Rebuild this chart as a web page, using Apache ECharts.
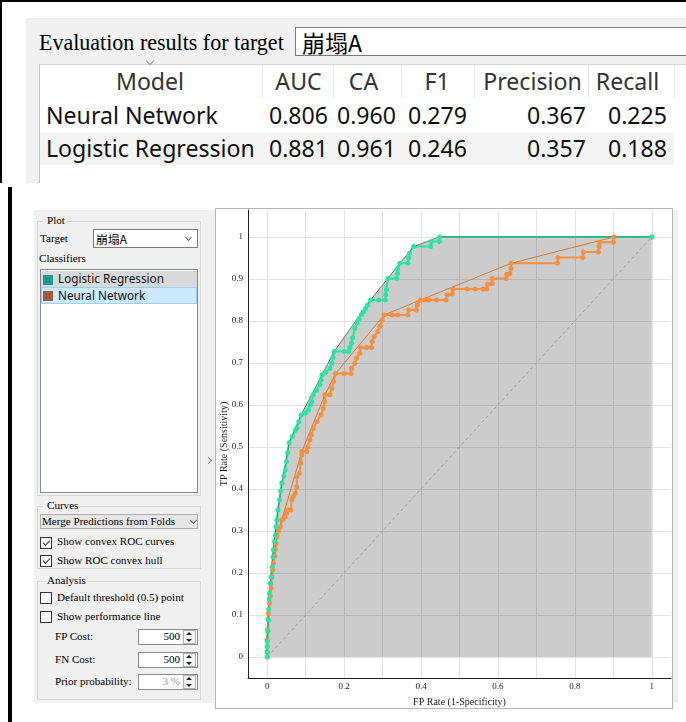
<!DOCTYPE html>
<html>
<head>
<meta charset="utf-8">
<script src="https://cdn.jsdelivr.net/npm/echarts@6/dist/echarts.min.js"></script>
<style>
  html, body { margin: 0; padding: 0; }
  body { width: 686px; height: 722px; position: relative; background: #fff; overflow: hidden; }
  .b { position: absolute; box-sizing: border-box; }
  .t { position: absolute; white-space: nowrap; line-height: 1; }
  .chk { position: absolute; box-sizing: border-box; width: 12px; height: 12px; border: 1px solid #333; background: #fff; }
  .tick { position: absolute; left: 2px; top: 2px; width: 6px; height: 3px; border-left: 1.4px solid #333; border-bottom: 1.4px solid #333; transform: rotate(-45deg); }
  .chev { position: absolute; width: 4px; height: 4px; border-right: 1px solid #666; border-bottom: 1px solid #666; transform: rotate(45deg); }
  .up { position: absolute; width: 0; height: 0; border-left: 3px solid transparent; border-right: 3px solid transparent; border-bottom: 3px solid #222; }
  .dn { position: absolute; width: 0; height: 0; border-left: 3px solid transparent; border-right: 3px solid transparent; border-top: 3px solid #222; }
</style>
</head>
<body>
<div id="ui"></div>
<div class="b" style="left:215px;top:208px;width:458px;height:501px;border:1px solid #b5b5b5;background:#fff"></div>
<div id="roc" style="position:absolute;left:216px;top:209px;width:456px;height:499px"></div>
<script>
// ---- evaluation table ----
const models     = ['Neural Network', 'Logistic Regression'];
const colHeaders = ['Model', 'AUC', 'CA', 'F1', 'Precision', 'Recall'];
const aucVals    = ['0.806', '0.881'];
const caVals     = ['0.960', '0.961'];
const f1Vals     = ['0.279', '0.246'];
const precVals   = ['0.367', '0.357'];
const recallVals = ['0.225', '0.188'];
const targetClass = '崩塌A';

// ---- ROC points (false positive rate, true positive rate) ----
const lrFpr = [0,0,0,0,0.002,0.003,0.004,0.005,0.006,0.008,0.010,0.013,0.015,0.016,0.019,0.021,0.023,0.025,0.028,0.032,0.035,0.038,0.043,0.047,0.050,0.053,0.057,0.065,0.073,0.077,0.082,0.088,0.100,0.107,0.112,0.116,0.120,0.128,0.137,0.140,0.142,0.152,0.163,0.168,0.171,0.174,0.200,0.211,0.215,0.219,0.222,0.228,0.234,0.239,0.245,0.250,0.256,0.261,0.269,0.290,0.307,0.308,0.310,0.314,0.336,0.339,0.339,0.345,0.366,0.368,0.370,0.381,0.425,0.427,0.448,0.448,1];
const lrTpr = [0,0.012,0.025,0.037,0.062,0.088,0.113,0.138,0.152,0.175,0.190,0.215,0.238,0.255,0.275,0.290,0.310,0.326,0.350,0.374,0.395,0.414,0.430,0.445,0.465,0.486,0.510,0.525,0.540,0.545,0.560,0.576,0.580,0.588,0.600,0.608,0.624,0.635,0.648,0.660,0.671,0.678,0.687,0.700,0.713,0.727,0.727,0.727,0.737,0.746,0.760,0.782,0.795,0.806,0.815,0.822,0.830,0.838,0.850,0.850,0.850,0.862,0.874,0.901,0.901,0.913,0.925,0.937,0.937,0.950,0.961,0.977,0.977,0.989,0.989,1.000,1];

const nnFpr = [0,0,0,0,0.001,0.002,0.003,0.006,0.008,0.010,0.012,0.014,0.016,0.019,0.021,0.023,0.025,0.030,0.034,0.038,0.042,0.047,0.050,0.053,0.061,0.064,0.068,0.073,0.077,0.077,0.084,0.087,0.090,0.090,0.103,0.105,0.111,0.115,0.120,0.129,0.140,0.146,0.149,0.150,0.163,0.168,0.172,0.178,0.200,0.218,0.219,0.228,0.232,0.241,0.243,0.258,0.271,0.273,0.278,0.288,0.293,0.299,0.304,0.325,0.339,0.366,0.368,0.388,0.390,0.399,0.410,0.420,0.440,0.465,0.468,0.481,0.483,0.520,0.541,0.561,0.571,0.573,0.585,0.585,0.621,0.623,0.631,0.634,0.634,0.755,0.756,0.821,0.822,0.861,0.863,0.864,0.900,0.902,1];
const nnTpr = [0,0.012,0.025,0.040,0.065,0.090,0.104,0.128,0.145,0.164,0.191,0.207,0.223,0.240,0.255,0.270,0.286,0.300,0.310,0.326,0.328,0.334,0.342,0.350,0.350,0.374,0.382,0.390,0.405,0.429,0.437,0.461,0.481,0.489,0.489,0.500,0.517,0.529,0.544,0.560,0.576,0.592,0.608,0.624,0.624,0.640,0.656,0.675,0.675,0.675,0.687,0.699,0.711,0.723,0.737,0.737,0.737,0.751,0.763,0.775,0.787,0.802,0.814,0.814,0.814,0.814,0.826,0.826,0.838,0.850,0.850,0.850,0.850,0.850,0.862,0.864,0.876,0.876,0.876,0.876,0.876,0.887,0.889,0.901,0.901,0.911,0.913,0.925,0.937,0.937,0.951,0.951,0.964,0.964,0.977,0.987,0.987,1.000,1];

// ---- axis ticks ----
const xGridValues  = [0,0.1,0.2,0.3,0.4,0.5,0.6,0.7,0.8,0.9,1];
const xLabelValues = [0,0.2,0.4,0.6,0.8,1];
const yGridValues  = [0,0.1,0.2,0.3,0.4,0.5,0.6,0.7,0.8,0.9,1];
const yLabelValues = [0,0.1,0.2,0.3,0.4,0.5,0.6,0.7,0.8,0.9,1];

const SERIF = '"Liberation Serif","DejaVu Serif",serif';
const SANS  = '"Noto Sans","Open Sans",sans-serif';
const CJK   = '"Noto Sans CJK TC","Noto Sans CJK SC",sans-serif';

const ui = document.getElementById('ui');
function box(x, y, w, h, css) {
  const d = document.createElement('div');
  d.className = 'b';
  d.style.cssText = `left:${x}px;top:${y}px;width:${w}px;height:${h}px;` + (css || '');
  ui.appendChild(d);
  return d;
}
function el(cls, x, y, css) {
  const d = document.createElement('div');
  d.className = cls;
  d.style.cssText = `left:${x}px;top:${y}px;` + (css || '');
  ui.appendChild(d);
  return d;
}
// font size that makes a string span w pixels
function sizeFor(str, font, w) {
  const e = document.createElement('span');
  e.className = 't';
  e.style.fontFamily = font; e.style.fontSize = '20px';
  e.textContent = str;
  ui.appendChild(e);
  const w0 = e.getBoundingClientRect().width;
  ui.removeChild(e);
  return 20 * w / w0;
}
// text placed by anchor x (left / right / centre) and vertical centre cy
function txt(str, x, cy, o) {
  const e = document.createElement('div');
  e.className = 't';
  e.textContent = str;
  e.style.fontFamily = o.f;
  e.style.fontSize = o.s + 'px';
  e.style.color = o.c || '#000';
  ui.appendChild(e);
  const r = e.getBoundingClientRect();
  let left = x;
  if (o.a === 'r') left = x - r.width;
  else if (o.a === 'c') left = x - r.width / 2;
  e.style.left = left + 'px';
  e.style.top = (cy - r.height / 2 + (o.dy || 0)) + 'px';
  return e;
}
function checkbox(x, y, on) {
  const c = el('chk', x, y);
  if (on) { const k = document.createElement('div'); k.className = 'tick'; c.appendChild(k); }
}

// ================= upper window: evaluation results =================
box(0, 0, 686, 2, 'background:#000');
box(0, 0, 2, 183, 'background:#000');
box(26, 18, 660, 165, 'background:#f0f0f0');
txt('Evaluation results for target', 39, 43, { f: SERIF, s: sizeFor('Evaluation results for target', SERIF, 245) });
box(295, 27, 400, 29, 'border:1px solid #7a7a7a;background:#fff');
txt(targetClass, 302, 42, { f: CJK, s: sizeFor(targetClass, CJK, 60) });

box(39, 64, 660, 119, 'background:#fff;border-left:1px solid #c4c4c4;border-top:1px solid #d4d4d4');
const colEdges = [262, 333, 401, 474, 588, 674];
colEdges.forEach(x => box(x, 65, 1, 33, 'background:#e6e6e6'));
box(40, 133, 634, 32, 'background:#f3f3f3');
el('chev', 147, 58, 'width:5px;height:5px;border-color:#999');
const TS = sizeFor('Logistic Regression', SANS, 209);
const headCentres = [150, 298.5, 363.5, 437, 532.5, 627.5];
colHeaders.forEach((h, i) => txt(h, headCentres[i], 82, { f: SANS, s: TS, a: 'c', c: '#333' }));
const rowY = [116, 149];
const valRight = [328, 396, 467, 586, 667];
const cols = [aucVals, caVals, f1Vals, precVals, recallVals];
models.forEach((m, r) => {
  txt(m, 46, rowY[r], { f: SANS, s: TS, c: '#111' });
  cols.forEach((vals, c) => txt(vals[r], valRight[c], rowY[r], { f: SANS, s: TS, a: 'r', c: '#111' }));
});

// ================= lower window: ROC analysis =================
box(8, 187, 4, 535, 'background:#000');
box(34, 210, 644, 493, 'background:#f0f0f0');
const PS = sizeFor('Default threshold (0.5) point', SERIF, 127);
const LS = sizeFor('Logistic Regression', SANS, 106);
function spin(x, y, val, col) {
  box(x, y, 60, 16, 'border:1px solid #8a8a8a;background:#fff');
  txt(val, x + 42, y + 8, { f: SERIF, s: PS, a: 'r', c: col || '#000' });
  box(x + 45, y + 1, 13, 14, 'border:1px solid #b0b0b0;background:#f4f4f4');
  el('up', x + 48, y + 3);
  el('dn', x + 48, y + 10);
}

// Plot group
box(37, 221, 164, 275, 'border:1px solid #d6d6d6');
box(43, 215, 24, 12, 'background:#f0f0f0');
txt('Plot', 47, 221, { f: SERIF, s: PS });
txt('Target', 40, 239, { f: SERIF, s: PS });
box(93, 229, 105, 19, 'border:1px solid #7a7a7a;background:#fff');
txt(targetClass, 96, 238.5, { f: CJK, s: sizeFor(targetClass, CJK, 31) });
el('chev', 186, 235);
txt('Classifiers', 39, 259, { f: SERIF, s: PS });
box(40, 269, 158, 224, 'border:1px solid #828790;background:#fff');
box(41, 271, 156, 16, 'background:#d9d9d9');
box(41, 287, 156, 17, 'background:#cce8ff;border:1px solid #99d1ff');
box(43, 275, 10, 10, 'background:#1f9990');
box(43, 291, 10, 10, 'background:#9b5d3a');
txt('Logistic Regression', 58, 279, { f: SANS, s: LS, c: '#111' });
txt('Neural Network', 58, 296, { f: SANS, s: LS, c: '#111' });
el('chev', 206, 458, 'transform:rotate(-45deg);border-color:#8a8a8a;width:4px;height:4px');

// Curves group
box(37, 506, 164, 63, 'border:1px solid #d6d6d6');
box(43, 500, 29, 12, 'background:#f0f0f0');
txt('Curves', 47, 506, { f: SERIF, s: PS });
box(40, 514, 158, 15, 'border:1px solid #adadad;background:#e5e5e5');
txt('Merge Predictions from Folds', 42, 521.5, { f: SERIF, s: PS });
el('chev', 191, 518);
checkbox(40, 537, true);
txt('Show convex ROC curves', 57, 542, { f: SERIF, s: PS });
checkbox(40, 555, true);
txt('Show ROC convex hull', 57, 561, { f: SERIF, s: PS });

// Analysis group
box(37, 581, 164, 119, 'border:1px solid #d6d6d6');
box(43, 575, 45, 12, 'background:#f0f0f0');
txt('Analysis', 47, 581, { f: SERIF, s: PS });
checkbox(40, 592, false);
txt('Default threshold (0.5) point', 57, 598, { f: SERIF, s: PS });
checkbox(40, 611, false);
txt('Show performance line', 57, 617, { f: SERIF, s: PS });
txt('FP Cost:', 55, 637, { f: SERIF, s: PS });
spin(138, 629, '500');
txt('FN Cost:', 55, 660, { f: SERIF, s: PS });
spin(138, 652, '500');
txt('Prior probability:', 55, 682, { f: SERIF, s: PS });
spin(138, 674, '3 %', '#9a9a9a');

// ================= ROC chart =================
function pairs(xs, ys) { return xs.map((x, i) => [x, ys[i]]); }
// upper convex hull of a set of ROC points, left to right
function upperHull(pts) {
  const s = pts.slice().sort((a, b) => a[0] - b[0] || a[1] - b[1]);
  const h = [];
  for (const p of s) {
    while (h.length >= 2) {
      const o = h[h.length - 2], a = h[h.length - 1];
      const cr = (a[0] - o[0]) * (p[1] - o[1]) - (a[1] - o[1]) * (p[0] - o[0]);
      if (cr >= 0) h.pop(); else break;
    }
    h.push(p);
  }
  return h;
}
const lrPts = pairs(lrFpr, lrTpr);
const nnPts = pairs(nnFpr, nnTpr);
const lrHull = upperHull(lrPts);
const nnHull = upperHull(nnPts);
const allHull = upperHull(lrPts.concat(nnPts));

const LR_C = '#29e4a2', LR_H = '#3f8d73';
const NN_C = '#f68f3e', NN_H = '#d6772e';
const axisFont = { fontFamily: SERIF, fontSize: 9, color: '#222' };

const chart = echarts.init(document.getElementById('roc'), null, { renderer: 'canvas' });
chart.setOption({
  animation: false,
  backgroundColor: '#fff',
  grid: { left: 32, right: 1, top: 1, bottom: 30, containLabel: false, outerBoundsMode: 'none' },
  xAxis: {
    type: 'value', min: -0.05, max: 1.05,
    axisLine: { show: true, onZero: false, lineStyle: { color: '#222', width: 1 } },
    axisTick: { show: false, customValues: xGridValues },
    axisLabel: Object.assign({ customValues: xLabelValues, margin: 4 }, axisFont),
    splitLine: { show: true, lineStyle: { color: '#e3e3e3', width: 1 } },
    name: 'FP Rate (1-Specificity)', nameLocation: 'middle', nameGap: 19, nameMoveOverlap: false,
    nameTextStyle: { fontFamily: SERIF, fontSize: 10, color: '#222' }
  },
  yAxis: {
    type: 'value', min: -0.05, max: 1.064,
    axisLine: { show: true, onZero: false, lineStyle: { color: '#222', width: 1 } },
    axisTick: { show: false, customValues: yGridValues },
    axisLabel: Object.assign({ customValues: yLabelValues, margin: 5 }, axisFont),
    splitLine: { show: true, lineStyle: { color: '#e3e3e3', width: 1 } },
    name: 'TP Rate (Sensitivity)', nameLocation: 'middle', nameGap: 19, nameRotate: 90, nameMoveOverlap: false,
    nameTextStyle: { fontFamily: SERIF, fontSize: 10, color: '#222' }
  },
  series: [
    { type: 'line', data: allHull, showSymbol: false, silent: true,
      lineStyle: { width: 0 }, areaStyle: { color: 'rgba(0,0,0,0.2)', opacity: 1 } },
    { type: 'line', data: [[0, 0], [1, 1]], showSymbol: false, silent: true,
      lineStyle: { color: '#9c9c9c', width: 1, type: [3, 3] } },
    { type: 'line', name: 'Neural Network', data: nnPts, symbol: 'circle', symbolSize: 5, showAllSymbol: true,
      itemStyle: { color: NN_C }, lineStyle: { color: NN_C, width: 2 } },
    { type: 'line', data: nnHull, showSymbol: false, lineStyle: { color: NN_H, width: 1 } },
    { type: 'line', name: 'Logistic Regression', data: lrPts, symbol: 'circle', symbolSize: 5, showAllSymbol: true,
      itemStyle: { color: LR_C }, lineStyle: { color: LR_C, width: 2 } },
    { type: 'line', data: lrHull, showSymbol: false, lineStyle: { color: LR_H, width: 1 } }
  ]
});
</script>
</body>
</html>
